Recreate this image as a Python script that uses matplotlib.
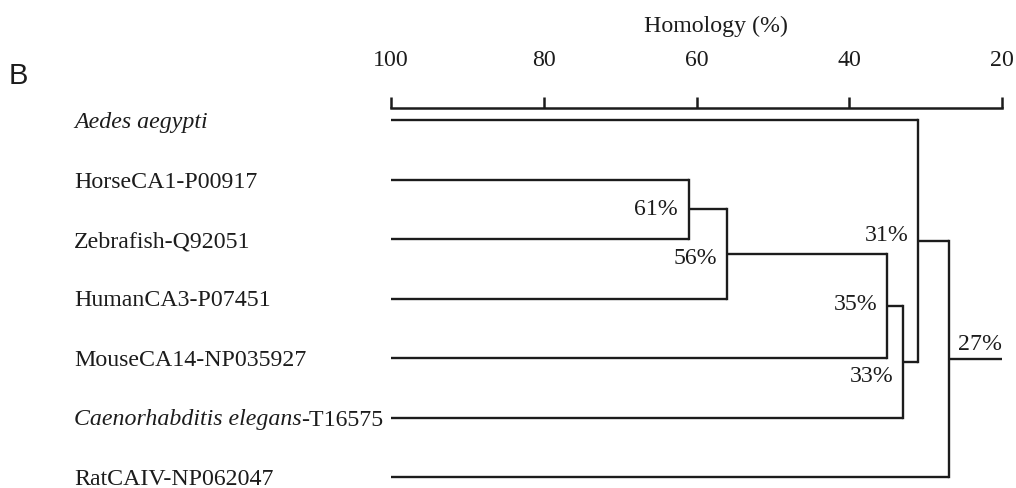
import matplotlib
matplotlib.use("Agg")
import matplotlib.pyplot as plt

plt.rcParams['font.family'] = ['Liberation Serif', 'DejaVu Serif']

# ---- data ----
leaf_italic = ["Aedes aegypti", "", "", "", "", "Caenorhabditis elegans", ""]
leaf_plain = ["", "HorseCA1-P00917", "Zebrafish-Q92051", "HumanCA3-P07451",
              "MouseCA14-NP035927", "-T16575", "RatCAIV-NP062047"]
# merges: (child_a, child_b, homology %) ; nodes >= 7 refer to earlier merges
merge_a = [1, 7, 8, 9, 0, 11]
merge_b = [2, 3, 4, 5, 10, 6]
merge_h = [61, 56, 35, 33, 31, 27]
merge_labels = ["61%", "56%", "35%", "33%", "31%", "27%"]
axis_ticks = [100, 80, 60, 40, 20]
leaf_start = 100
root_end = 20

# ---- figure ----
W, H = 1016, 488
fig = plt.figure(figsize=(W / 100, H / 100), dpi=100)
top_px = 108
ax = fig.add_axes([391 / W, 0, (1002 - 391) / W, (H - top_px) / H])

px_per_unit = 59.5
y0_px = 120
ax.set_xlim(100, 20)
ax.set_ylim((H - y0_px) / px_per_unit, (y0_px - top_px) / -px_per_unit)

ink = '#1c1c1c'
lw = 1.7
fs = 17.2
n = len(leaf_plain)
pos_y = {i: float(i) for i in range(n)}
pos_x = {i: float(leaf_start) for i in range(n)}

for k, (a, b, h) in enumerate(zip(merge_a, merge_b, merge_h)):
    node = n + k
    ya, yb = pos_y[a], pos_y[b]
    ax.plot([pos_x[a], h], [ya, ya], color=ink, lw=lw, solid_capstyle='butt')
    ax.plot([pos_x[b], h], [yb, yb], color=ink, lw=lw, solid_capstyle='butt')
    ax.plot([h, h], [ya, yb], color=ink, lw=lw, solid_capstyle='projecting')
    pos_y[node] = (ya + yb) / 2
    pos_x[node] = h

root = n + len(merge_h) - 1
ax.plot([pos_x[root], root_end], [pos_y[root]] * 2, color=ink, lw=lw,
        solid_capstyle='butt')

# node labels (offsets in pixels)
offsets = [(-11, 0, 'right'), (-10, -5, 'right'), (-10, 1, 'right'),
           (-9, -15, 'right'), (-9, 5, 'right'), (9, 14, 'left')]
for k, lab in enumerate(merge_labels):
    node = n + k
    dx, dy, ha = offsets[k]
    ax.annotate(lab, (pos_x[node], pos_y[node]), xytext=(dx, dy),
                textcoords='offset pixels', ha=ha, va='center',
                fontsize=fs, color=ink)

# leaf labels (italic part followed by plain part)
fig.canvas.draw()
renderer = fig.canvas.get_renderer()
for i in range(n):
    x_px = 74
    y_fig = fig.transFigure.inverted().transform(
        ax.transData.transform((100, pos_y[i])))[1]
    if leaf_italic[i]:
        t = fig.text(x_px / W, y_fig, leaf_italic[i], style='italic',
                     ha='left', va='center_baseline', fontsize=fs, color=ink)
        bb = t.get_window_extent(renderer)
        x_px = bb.x1
    if leaf_plain[i]:
        fig.text(x_px / W, y_fig, leaf_plain[i], ha='left',
                 va='center_baseline', fontsize=fs, color=ink)

# top axis
for s in ['bottom', 'left', 'right']:
    ax.spines[s].set_visible(False)
ax.spines['top'].set_linewidth(1.8)
ax.spines['top'].set_color(ink)
ax.set_yticks([])
ax.xaxis.set_ticks_position('top')
ax.set_xticks(axis_ticks)
ax.set_xticklabels([str(t) for t in axis_ticks])
ax.tick_params(axis='x', direction='out', length=8, width=1.8, pad=19,
               labelsize=fs, colors=ink)

fig.text(716 / W, 1 - 26 / H, "Homology (%)", ha='center', va='center',
         fontsize=fs, color=ink)
fig.text(9 / W, 1 - 76 / H, "B", ha='left', va='center', fontsize=21,
         family='Liberation Sans', color=ink)

fig.savefig("out.png", dpi=100)
